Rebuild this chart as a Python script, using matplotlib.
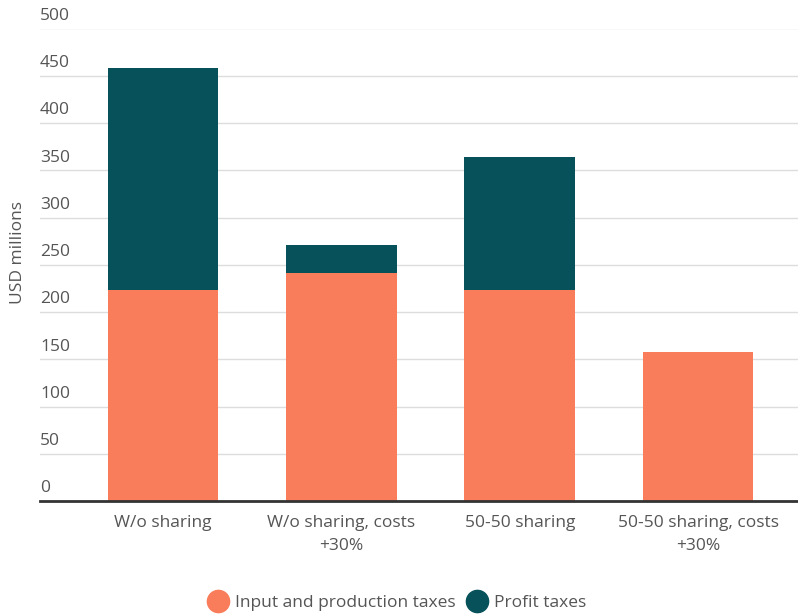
import matplotlib
matplotlib.use("Agg")
import matplotlib.pyplot as plt
from matplotlib.lines import Line2D
from matplotlib.transforms import blended_transform_factory

categories = ["W/o sharing", "W/o sharing, costs\n+30%", "50-50 sharing", "50-50 sharing, costs\n+30%"]
input_production = [223, 241, 223, 158]
profit_taxes = [235, 30, 141, 0]
y_ticks = [0, 50, 100, 150, 200, 250, 300, 350, 400, 450, 500]
series_names = ["Input and production taxes", "Profit taxes"]

ORANGE = "#F97C5B"
TEAL = "#06515A"
TXT = "#555555"

plt.rcParams['font.family'] = ['Open Sans', 'DejaVu Sans']

W, H = 798, 616
fig = plt.figure(figsize=(W / 100, H / 100), dpi=100)
ax = fig.add_axes([40 / W, 1 - 501 / H, 1 - 40 / W, (501 - 28.5) / H])

x = list(range(len(categories)))
ax.bar(x, input_production, width=0.62, color=ORANGE, zorder=3)
ax.bar(x, profit_taxes, width=0.62, bottom=input_production, color=TEAL, zorder=3)

ax.set_ylim(0, 500)
ax.set_xlim(-0.69, 3.56)
ax.set_yticks(y_ticks)
ax.yaxis.grid(True, color="#DDDDDD", linewidth=1, zorder=0)
ax.tick_params(axis='y', length=0, labelleft=False)
for s in ["top", "right", "left"]:
    ax.spines[s].set_visible(False)
ax.spines["bottom"].set_color("#333333")
ax.spines["bottom"].set_linewidth(2)
ax.spines["bottom"].set_zorder(4)

FS = 12.5
trans = blended_transform_factory(ax.transAxes, ax.transData)
for v in y_ticks:
    ax.text(0.0, v + 5, str(v), transform=trans, ha="left", va="bottom",
            fontsize=FS, color=TXT)

ax.set_xticks(x)
ax.set_xticklabels(categories, fontsize=FS, color=TXT, linespacing=1.6)
ax.tick_params(axis='x', length=0, pad=10)

fig.text(18 / W, 1 - 252 / H, "USD millions", rotation=90, ha="center", va="center",
         fontsize=FS, color=TXT)

handles = [Line2D([], [], marker='o', linestyle='none', markersize=16,
                  markerfacecolor=c, markeredgecolor=c) for c in (ORANGE, TEAL)]
fig.legend(handles, series_names, loc="center", bbox_to_anchor=(398 / W, 1 - 603 / H),
           ncol=2, frameon=False, fontsize=FS, labelcolor=TXT,
           handletextpad=0.5, columnspacing=0.7, handlelength=1.0)

fig.savefig("out.png", dpi=100, facecolor="white")
